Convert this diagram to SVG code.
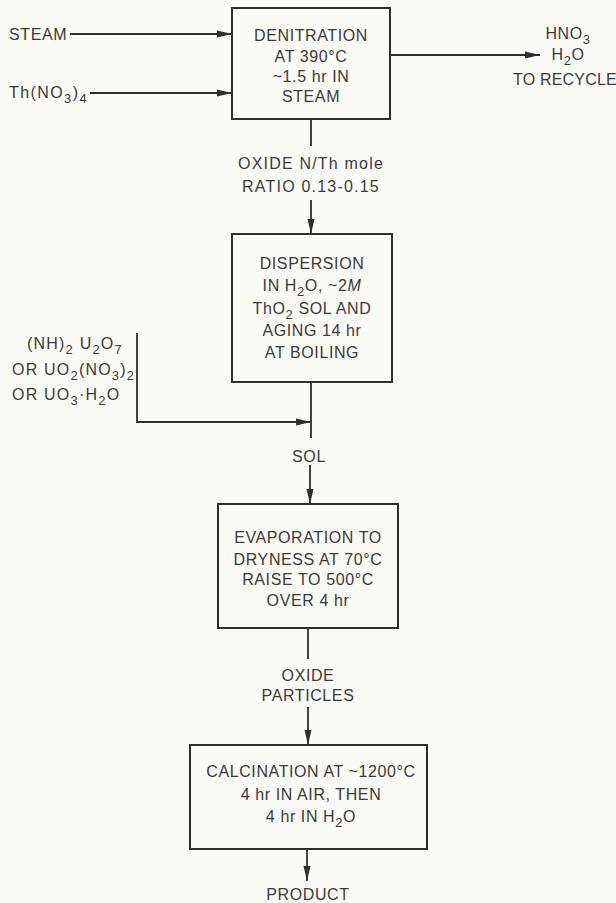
<svg xmlns="http://www.w3.org/2000/svg" width="616" height="903" viewBox="0 0 616 903">
  <style>
    .bg { fill: #fbfbf6; }
    .box { fill: none; stroke: #2e2e2e; stroke-width: 2; }
    .wire { fill: none; stroke: #2e2e2e; stroke-width: 1.8; }
    text { font-family: "Liberation Sans", Arial, sans-serif; font-size: 16px; fill: #3a3a3a; letter-spacing: 0.6px; }
    .c { text-anchor: middle; }
    .sub { font-size: 13px; }
    .wide { letter-spacing: 1.2px; }
  </style>
  <defs>
    <marker id="ah" markerUnits="userSpaceOnUse" markerWidth="15" markerHeight="8" refX="15" refY="4" orient="auto">
      <path d="M0,0.5 L15,4 L0,7.5 Z" fill="#2e2e2e"/>
    </marker>
  </defs>

  <rect class="bg" x="0" y="0" width="616" height="903"/>

  <!-- connectors -->
  <g id="connectors">
    <path class="wire" d="M70,34 H232" marker-end="url(#ah)"/>
    <path class="wire" d="M90,93 H232" marker-end="url(#ah)"/>
    <path class="wire" d="M390,55 H540" marker-end="url(#ah)"/>
    <path class="wire" d="M311,119 V146"/>
    <path class="wire" d="M311,200 V234" marker-end="url(#ah)"/>
    <path class="wire" d="M311,382 V438"/>
    <path class="wire" d="M137,333 V422 H311" marker-end="url(#ah)"/>
    <path class="wire" d="M310,465 V504" marker-end="url(#ah)"/>
    <path class="wire" d="M308,628 V659"/>
    <path class="wire" d="M308,707 V745" marker-end="url(#ah)"/>
    <path class="wire" d="M307,849 V881" marker-end="url(#ah)"/>
  </g>

  <!-- feed and product labels -->
  <g id="steam">
    <text x="9" y="40">STEAM</text>
  </g>
  <g id="thorium-nitrate">
    <text x="9" y="98" style="letter-spacing:1.4px">Th(NO<tspan class="sub" dy="5">3</tspan><tspan dy="-5">)</tspan><tspan class="sub" dy="5">4</tspan></text>
  </g>
  <g id="recycle">
    <text class="c" x="568" y="39">HNO<tspan class="sub" dy="5">3</tspan></text>
    <text class="c" x="568" y="60">H<tspan class="sub" dy="5">2</tspan><tspan dy="-5">O</tspan></text>
    <text x="513" y="85" style="letter-spacing:0.2px">TO RECYCLE</text>
  </g>

  <g id="denitration">
    <rect class="box" x="232" y="8" width="158" height="111"/>
    <text class="c" x="311" y="41">DENITRATION</text>
    <text class="c" x="311" y="62">AT 390°C</text>
    <text class="c" x="311" y="82">~1.5 hr IN</text>
    <text class="c" x="311" y="102">STEAM</text>
  </g>

  <g id="oxide-ratio">
    <text class="c wide" x="311" y="169">OXIDE N/Th mole</text>
    <text class="c wide" x="311" y="192">RATIO 0.13-0.15</text>
  </g>

  <g id="dispersion">
    <rect class="box" x="232" y="234" width="160" height="148"/>
    <text class="c" x="312" y="269">DISPERSION</text>
    <text class="c" x="312" y="291">IN H<tspan class="sub" dy="5">2</tspan><tspan dy="-5">O, ~2</tspan><tspan font-style="italic">M</tspan></text>
    <text class="c" x="312" y="314">ThO<tspan class="sub" dy="5">2</tspan><tspan dy="-5"> SOL AND</tspan></text>
    <text class="c" x="312" y="336">AGING 14 hr</text>
    <text class="c" x="312" y="358">AT BOILING</text>
  </g>

  <g id="uranium-feed">
    <text class="wide" x="27" y="349">(NH)<tspan class="sub" dy="5">2</tspan><tspan dy="-5"> U</tspan><tspan class="sub" dy="5">2</tspan><tspan dy="-5">O</tspan><tspan class="sub" dy="5">7</tspan></text>
    <text class="wide" x="12" y="375">OR UO<tspan class="sub" dy="5">2</tspan><tspan dy="-5">(NO</tspan><tspan class="sub" dy="5">3</tspan><tspan dy="-5">)</tspan><tspan class="sub" dy="5">2</tspan></text>
    <text class="wide" x="12" y="400">OR UO<tspan class="sub" dy="5">3</tspan><tspan dy="-5">·H</tspan><tspan class="sub" dy="5">2</tspan><tspan dy="-5">O</tspan></text>
  </g>

  <g id="sol">
    <text class="c" x="309" y="462">SOL</text>
  </g>

  <g id="evaporation">
    <rect class="box" x="218" y="504" width="180" height="124"/>
    <text class="c" x="308" y="543">EVAPORATION  TO</text>
    <text class="c" x="308" y="565">DRYNESS AT 70°C</text>
    <text class="c" x="308" y="585">RAISE TO 500°C</text>
    <text class="c" x="308" y="606">OVER 4 hr</text>
  </g>

  <g id="oxide-particles">
    <text class="c" x="308" y="681">OXIDE</text>
    <text class="c" x="308" y="701">PARTICLES</text>
  </g>

  <g id="calcination">
    <rect class="box" x="190" y="745" width="237" height="104"/>
    <text class="c" x="311" y="777">CALCINATION AT ~1200°C</text>
    <text class="c" x="311" y="800">4 hr IN AIR, THEN</text>
    <text class="c" x="311" y="822">4 hr IN H<tspan class="sub" dy="5">2</tspan><tspan dy="-5">O</tspan></text>
  </g>

  <g id="product">
    <text class="c" x="308" y="900">PRODUCT</text>
  </g>
</svg>
